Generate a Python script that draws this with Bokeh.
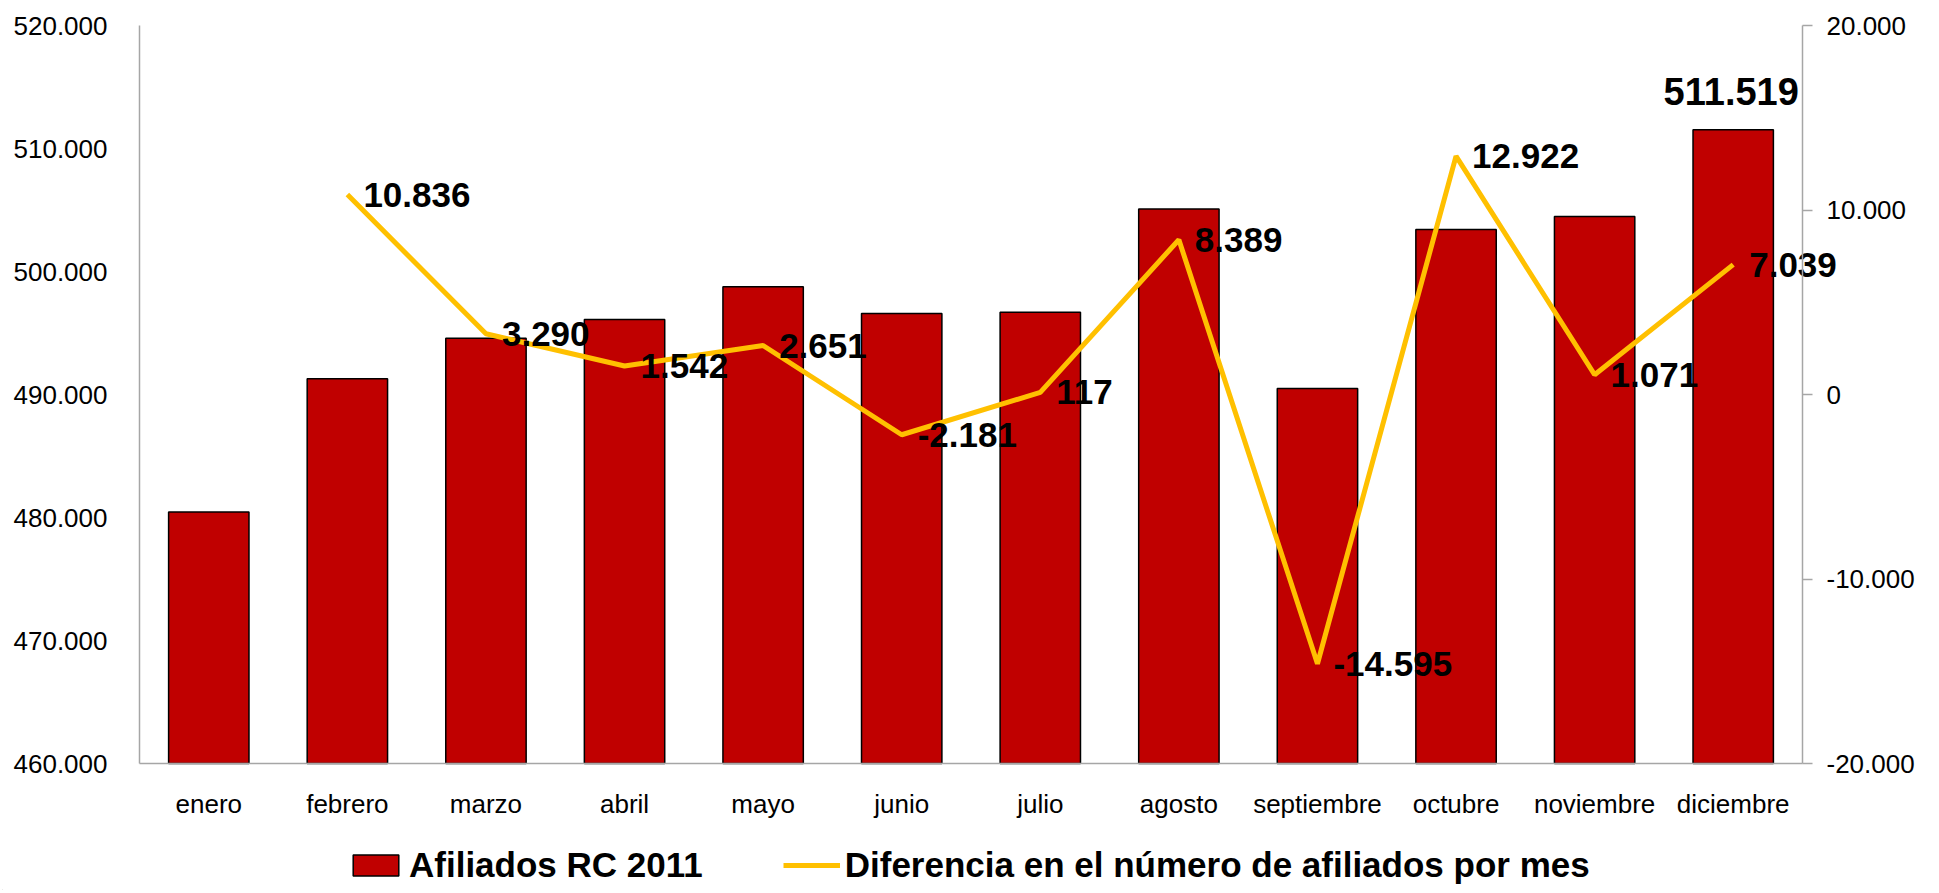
import numpy as np
from bokeh.plotting import figure
from bokeh.layouts import column
from bokeh.models import (ColumnDataSource, Range1d, LinearAxis, FixedTicker,
                          CustomJSTickFormatter, Legend, LegendItem, FactorRange)
from bokeh.core.properties import value
from bokeh.embed import file_html
from bokeh.resources import INLINE

# ---- data ----
months = ["enero", "febrero", "marzo", "abril", "mayo", "junio", "julio",
          "agosto", "septiembre", "octubre", "noviembre", "diciembre"]
afiliados = [480438, 491274, 494564, 496106, 498757, 496576, 496693,
             505082, 490487, 503409, 504480, 511519]
diferencia = [np.nan, 10836, 3290, 1542, 2651, -2181, 117,
              8389, -14595, 12922, 1071, 7039]
left_ticks = [460000, 470000, 480000, 490000, 500000, 510000, 520000]
right_ticks = [-20000, -10000, 0, 10000, 20000]
bar_series_name = "Afiliados RC 2011"
line_series_name = "Diferencia en el número de afiliados por mes"

FONT = "Liberation Sans"
RED = "#C00000"
GOLD = "#FFC000"
GRAY = "#A6A6A6"

# ---- layout (pixels) ----
W = 1939
AXIS_TOP_PX = 25      # space above the top tick
AXIS_SPAN_PX = 738    # height between bottom and top ticks
BOTTOM_PX = 75        # space below the bottom tick (month names)
H = AXIS_TOP_PX + AXIS_SPAN_PX + BOTTOM_PX


def fmt(v):
    s = f"{abs(int(round(v))):,}".replace(",", ".")
    return ("-" if v < 0 else "") + s


fmt_js = CustomJSTickFormatter(code="""
    const n = Math.round(tick);
    return n.toString().replace(/\\B(?=(\\d{3})+(?!\\d))/g, '.');
""")

lo, hi = left_ticks[0], left_ticks[-1]
rlo, rhi = right_ticks[0], right_ticks[-1]
top_f = AXIS_TOP_PX / AXIS_SPAN_PX
bot_f = BOTTOM_PX / AXIS_SPAN_PX

x_range = FactorRange(*months, range_padding=0.9886,
                      range_padding_units="absolute")
p = figure(width=W, height=H, x_range=x_range,
           y_range=Range1d(lo - (hi - lo) * bot_f, hi + (hi - lo) * top_f),
           output_backend="svg", toolbar_location=None,
           min_border_left=2, min_border_right=0,
           min_border_top=0, min_border_bottom=0)
p.extra_y_ranges = {"diff": Range1d(rlo - (rhi - rlo) * bot_f,
                                    rhi + (rhi - rlo) * top_f)}

p.xgrid.grid_line_color = None
p.ygrid.grid_line_color = None
p.outline_line_color = None
p.background_fill_color = "white"
p.border_fill_color = "white"

n = len(months)

# left axis (pinned at the left edge of the categories)
ya = p.yaxis[0]
ya.fixed_location = 0
ya.bounds = (lo, hi)
ya.ticker = FixedTicker(ticks=left_ticks)
ya.formatter = fmt_js
ya.axis_line_color = GRAY
ya.axis_line_width = 1.5
ya.major_tick_line_color = None
ya.minor_tick_line_color = None
ya.major_label_standoff = 26
ya.major_label_text_font = FONT
ya.major_label_text_font_size = "26px"
ya.major_label_text_color = "black"

# right axis (pinned at the right edge of the categories)
ra = LinearAxis(y_range_name="diff", ticker=FixedTicker(ticks=right_ticks),
                formatter=fmt_js, fixed_location=n, bounds=(rlo, rhi))
ra.axis_line_color = GRAY
ra.axis_line_width = 1.5
ra.major_tick_line_color = GRAY
ra.major_tick_line_width = 1.5
ra.major_tick_out = 10
ra.major_tick_in = 0
ra.minor_tick_line_color = None
ra.major_label_standoff = 14
ra.major_label_text_font = FONT
ra.major_label_text_font_size = "26px"
ra.major_label_text_color = "black"
p.add_layout(ra, "right")

# x axis (pinned at the bottom tick value)
xa = p.xaxis[0]
xa.fixed_location = lo
xa.bounds = (0, n)
xa.axis_line_color = GRAY
xa.axis_line_width = 1.5
xa.major_tick_line_color = None
xa.minor_tick_line_color = None
xa.major_label_standoff = 19
xa.major_label_text_font = FONT
xa.major_label_text_font_size = "26px"
xa.major_label_text_color = "black"

src = ColumnDataSource(dict(month=months, afiliados=afiliados, diff=diferencia))

bars = p.vbar(x="month", top="afiliados", bottom=lo, width=0.58,
              source=src, fill_color=RED, line_color="black", line_width=1.5)
line = p.line(x="month", y="diff", source=src, y_range_name="diff",
              line_color=GOLD, line_width=5)

# line labels
lab_src = ColumnDataSource(dict(month=months[1:], diff=diferencia[1:],
                                txt=[fmt(v) for v in diferencia[1:]]))
p.text(x="month", y="diff", text="txt", source=lab_src, y_range_name="diff",
       x_offset=16, text_align="left", text_baseline="middle",
       text_font=value(FONT), text_font_style="bold", text_font_size="35px",
       text_color="black")

# bar label for last month
bar_lab = ColumnDataSource(dict(month=[months[-1]], v=[afiliados[-1]],
                                txt=[fmt(afiliados[-1])]))
p.text(x="month", y="v", text="txt", source=bar_lab,
       x_offset=-2, y_offset=-38, text_align="center",
       text_baseline="alphabetic",
       text_font=value(FONT), text_font_style="bold", text_font_size="38px",
       text_color="black")

# ---- legend strip ----
q = figure(width=W, height=52, x_range=Range1d(0, 1), y_range=Range1d(0, 1),
           output_backend="svg", toolbar_location=None,
           min_border_left=0, min_border_right=0, min_border_top=0,
           min_border_bottom=0)
q.axis.visible = False
q.xgrid.grid_line_color = None
q.ygrid.grid_line_color = None
q.outline_line_color = None
q.border_fill_color = "white"
lb = q.vbar(x=[-5], top=[-5], bottom=[-6], width=0.1, fill_color=RED,
            line_color="black", line_width=1.5)
ll = q.line(x=[-5, -4], y=[-5, -5], line_color=GOLD, line_width=5)
legend = Legend(items=[LegendItem(label=bar_series_name, renderers=[lb]),
                       LegendItem(label=line_series_name, renderers=[ll])],
                orientation="horizontal", location=(345, 5))
legend.label_text_font = FONT
legend.label_text_font_size = "35px"
legend.label_text_font_style = "bold"
legend.label_text_color = "black"
legend.glyph_width = 57
legend.glyph_height = 26
legend.label_height = 38
legend.label_standoff = 5
legend.spacing = 80
legend.padding = 0
legend.margin = 0
legend.border_line_color = None
legend.background_fill_alpha = 0
q.add_layout(legend)

layout = column(p, q, spacing=0)
open("out.html", "w").write(file_html(layout, INLINE))
